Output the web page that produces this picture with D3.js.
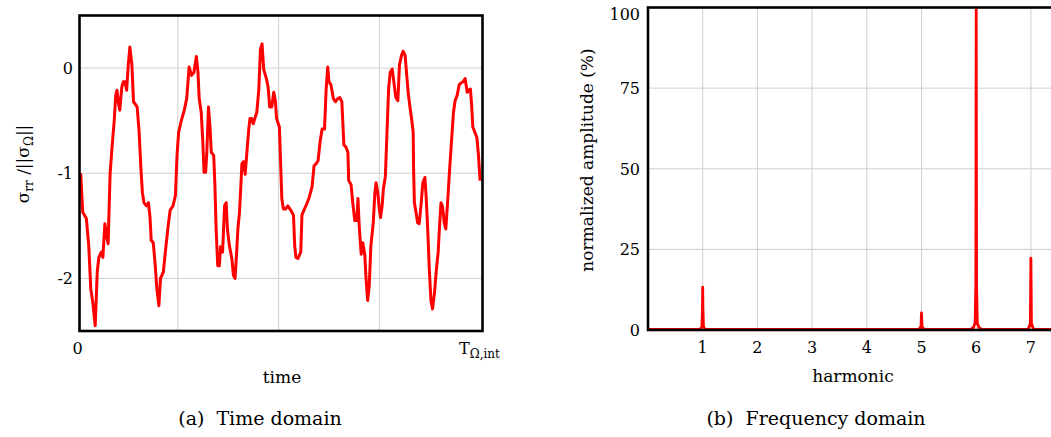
<!DOCTYPE html>
<html>
<head>
<meta charset="utf-8">
<script src="https://cdn.jsdelivr.net/npm/d3@7"></script>
<style>
  body { margin: 0; background: #fff; }
  svg { display: block; font-family: "DejaVu Serif", serif; }
  .grid line { stroke: #cfcfcf; stroke-width: 1; }
</style>
</head>
<body>
<svg id="chart" width="1051" height="437"></svg>
<script>
// time domain signal, t as fraction of T_Ω,int, value = σrr/||σΩ||
var timeT = [0.003, 0.008, 0.017, 0.023, 0.028, 0.033, 0.039, 0.044, 0.048, 0.054, 0.058, 0.063, 0.067, 0.071, 0.076,
  0.081, 0.086, 0.090, 0.093, 0.097, 0.100, 0.105, 0.109, 0.113, 0.117, 0.121, 0.125, 0.130, 0.134, 0.138,
  0.143, 0.148, 0.152, 0.156, 0.160, 0.166, 0.171, 0.175, 0.178, 0.183, 0.188, 0.192, 0.197, 0.201, 0.208,
  0.213, 0.220, 0.225, 0.232, 0.238, 0.242, 0.246, 0.252, 0.260, 0.266, 0.272, 0.278, 0.284, 0.290, 0.294,
  0.297, 0.302, 0.306, 0.309, 0.313, 0.316, 0.320, 0.324, 0.327, 0.333, 0.336, 0.339, 0.343, 0.347, 0.350,
  0.355, 0.360, 0.364, 0.367, 0.372, 0.378, 0.382, 0.386, 0.390, 0.393, 0.397, 0.400, 0.403, 0.407, 0.411,
  0.416, 0.420, 0.423, 0.427, 0.431, 0.435, 0.440, 0.445, 0.449, 0.453, 0.457, 0.463, 0.468, 0.472, 0.477,
  0.482, 0.486, 0.489, 0.496, 0.499, 0.502, 0.506, 0.511, 0.517, 0.524, 0.531, 0.534, 0.537, 0.542, 0.549,
  0.552, 0.557, 0.564, 0.570, 0.577, 0.582, 0.587, 0.592, 0.597, 0.602, 0.608, 0.612, 0.616, 0.619, 0.624,
  0.630, 0.635, 0.641, 0.646, 0.651, 0.656, 0.661, 0.666, 0.668, 0.674, 0.678, 0.683, 0.688, 0.691, 0.694,
  0.699, 0.703, 0.708, 0.711, 0.715, 0.719, 0.723, 0.729, 0.733, 0.736, 0.740, 0.744, 0.747, 0.751, 0.754,
  0.759, 0.763, 0.767, 0.771, 0.776, 0.780, 0.785, 0.790, 0.794, 0.799, 0.803, 0.808, 0.812, 0.816, 0.820,
  0.824, 0.828, 0.829, 0.831, 0.835, 0.839, 0.843, 0.848, 0.852, 0.857, 0.860, 0.864, 0.868, 0.872, 0.876,
  0.881, 0.885, 0.890, 0.893, 0.897, 0.901, 0.905, 0.909, 0.914, 0.918, 0.923, 0.928, 0.932, 0.937, 0.942,
  0.947, 0.952, 0.957, 0.962, 0.966, 0.970, 0.973, 0.976, 0.981, 0.986, 0.990, 0.994];
var stress = [-1.00, -1.37, -1.43, -1.69, -2.10, -2.23, -2.45, -1.94, -1.80, -1.75, -1.80, -1.48, -1.59, -1.67, -1.00,
  -0.74, -0.51, -0.26, -0.21, -0.34, -0.40, -0.18, -0.13, -0.13, -0.21, 0.03, 0.20, 0.03, -0.32, -0.34,
  -0.37, -0.61, -0.93, -1.18, -1.28, -1.31, -1.28, -1.42, -1.64, -1.66, -1.88, -2.10, -2.26, -2.00, -1.94,
  -1.75, -1.50, -1.35, -1.31, -1.21, -0.83, -0.61, -0.51, -0.40, -0.29, 0.01, -0.07, -0.04, 0.11, -0.04,
  -0.29, -0.42, -0.70, -0.99, -0.99, -0.80, -0.37, -0.57, -0.80, -0.83, -1.11, -1.53, -1.88, -1.88, -1.70,
  -1.75, -1.31, -1.28, -1.53, -1.69, -1.81, -1.97, -2.00, -1.75, -1.53, -1.37, -1.15, -0.91, -0.89, -1.01,
  -0.77, -0.58, -0.48, -0.48, -0.53, -0.48, -0.42, -0.20, 0.18, 0.23, -0.01, -0.09, -0.18, -0.37, -0.37,
  -0.23, -0.31, -0.48, -0.56, -0.89, -1.24, -1.34, -1.34, -1.31, -1.35, -1.40, -1.69, -1.80, -1.81, -1.75,
  -1.40, -1.35, -1.29, -1.23, -1.13, -0.93, -0.91, -0.88, -0.70, -0.58, -0.58, -0.20, 0.01, -0.13, -0.16,
  -0.29, -0.32, -0.29, -0.28, -0.32, -0.73, -0.75, -0.80, -1.07, -1.11, -1.28, -1.45, -1.45, -1.24, -1.50,
  -1.77, -1.66, -1.78, -2.00, -2.21, -2.07, -1.69, -1.47, -1.18, -1.09, -1.18, -1.34, -1.42, -1.31, -1.15,
  -1.03, -0.61, -0.20, -0.04, -0.01, -0.13, -0.28, -0.31, 0.03, 0.12, 0.16, 0.12, -0.07, -0.25, -0.37,
  -0.48, -0.61, -0.96, -1.28, -1.37, -1.47, -1.48, -1.28, -1.09, -1.04, -1.21, -1.53, -1.91, -2.21, -2.29,
  -2.13, -1.94, -1.75, -1.53, -1.28, -1.32, -1.47, -1.53, -1.24, -0.99, -0.70, -0.42, -0.31, -0.26, -0.16,
  -0.14, -0.13, -0.10, -0.23, -0.21, -0.20, -0.35, -0.56, -0.61, -0.66, -0.83, -1.07];
var timeGrid = [0.244, 0.494, 0.744];
var stressTicks = [0, -1, -2];

// frequency domain, harmonic order vs normalized amplitude (%)
var harmonic = [0, 0.95, 0.985, 0.995, 1, 1.005, 1.015, 1.05, 4.95, 4.99, 5, 5.01, 5.05, 5.9, 5.95, 5.98, 5.993,
  6, 6.007, 6.02, 6.05, 6.1, 6.95, 6.99, 7, 7.01, 7.05, 8];
var amplitude = [0.2, 0.2, 1.0, 6.0, 13.3, 6.0, 1.0, 0.2, 0.2, 1.0, 5.3, 1.0, 0.2, 0.2, 0.8, 2.2, 14,
  100, 14, 2.2, 0.8, 0.2, 0.2, 2.0, 22.3, 2.0, 0.2, 0.2];
var harmonicTicks = [1, 2, 3, 4, 5, 6, 7];
var ampTicks = [0, 25, 50, 75, 100];

var svg = d3.select("#chart");

// ---------- (a) time domain ----------
var L = { left: 79.5, right: 482.5, top: 15.5, bottom: 331 };
var xT = d3.scaleLinear().domain([0, 1]).range([L.left, L.right]);
var yT = d3.scaleLinear().domain([-2.5, 0.5]).range([L.bottom, L.top]);

var gA = svg.append("g");
gA.append("clipPath").attr("id", "clipA").append("rect")
  .attr("x", L.left).attr("y", L.top).attr("width", L.right - L.left).attr("height", L.bottom - L.top);

gA.append("g").attr("class", "grid")
  .selectAll("line.v").data(timeGrid).enter().append("line")
  .attr("x1", xT).attr("x2", xT).attr("y1", L.top).attr("y2", L.bottom);
gA.append("g").attr("class", "grid")
  .selectAll("line.h").data(stressTicks).enter().append("line")
  .attr("x1", L.left).attr("x2", L.right).attr("y1", yT).attr("y2", yT);

var lineA = d3.line()
  .x(function (d) { return xT(d[0]); })
  .y(function (d) { return yT(d[1]); });

gA.append("path")
  .datum(d3.zip(timeT, stress))
  .attr("clip-path", "url(#clipA)")
  .attr("d", lineA)
  .attr("fill", "none")
  .attr("stroke", "#ff0000")
  .attr("stroke-width", 3)
  .attr("stroke-linejoin", "round");

gA.append("rect")
  .attr("x", L.left).attr("y", L.top).attr("width", L.right - L.left).attr("height", L.bottom - L.top)
  .attr("fill", "none").attr("stroke", "#000").attr("stroke-width", 2.6);

gA.selectAll("text.ytick").data(stressTicks).enter().append("text")
  .attr("x", 73).attr("y", function (d) { return yT(d) + 6; })
  .attr("text-anchor", "end").attr("font-size", 16)
  .text(function (d) { return d; });

gA.append("text").attr("x", xT(0) - 2).attr("y", 354).attr("text-anchor", "middle").attr("font-size", 16).text("0");
var tLab = gA.append("text").attr("x", xT(1) - 3).attr("y", 354).attr("text-anchor", "middle").attr("font-size", 16);
tLab.append("tspan").text("T");
tLab.append("tspan").attr("font-size", 12).attr("dy", 4).text("Ω,int");

gA.append("text").attr("x", 282).attr("y", 383).attr("text-anchor", "middle").attr("font-size", 17).text("time");

var sLab = gA.append("text").attr("transform", "translate(29,164) rotate(-90)")
  .attr("text-anchor", "middle").attr("font-size", 17);
sLab.append("tspan").text("σ");
sLab.append("tspan").attr("font-size", 12).attr("dy", 4).text("rr");
sLab.append("tspan").attr("dy", -4).text(" /||σ");
sLab.append("tspan").attr("font-size", 12).attr("dy", 4).text("Ω");
sLab.append("tspan").attr("dy", -4).text("||");

svg.append("text").attr("x", 260).attr("y", 425).attr("text-anchor", "middle").attr("font-size", 19)
  .attr("xml:space", "preserve").text("(a)  Time domain");

// ---------- (b) frequency domain ----------
var R = { left: 648, right: 1085.6, top: 7.5, bottom: 330 };
var xH = d3.scaleLinear().domain([0, 8]).range([R.left, R.right]);
var yA = d3.scaleLinear().domain([0, 100]).range([R.bottom, R.top]);

var gB = svg.append("g");
gB.append("clipPath").attr("id", "clipB").append("rect")
  .attr("x", R.left).attr("y", R.top).attr("width", R.right - R.left).attr("height", R.bottom - R.top);

gB.append("g").attr("class", "grid")
  .selectAll("line").data(harmonicTicks).enter().append("line")
  .attr("x1", xH).attr("x2", xH).attr("y1", R.top).attr("y2", R.bottom);
gB.append("g").attr("class", "grid")
  .selectAll("line").data(ampTicks).enter().append("line")
  .attr("x1", R.left).attr("x2", R.right).attr("y1", yA).attr("y2", yA);

var lineB = d3.line()
  .x(function (d) { return xH(d[0]); })
  .y(function (d) { return yA(d[1]); });

gB.append("path")
  .datum(d3.zip(harmonic, amplitude))
  .attr("clip-path", "url(#clipB)")
  .attr("d", lineB)
  .attr("fill", "none")
  .attr("stroke", "#ff0000")
  .attr("stroke-width", 2.8)
  .attr("stroke-linejoin", "round");

gB.append("rect")
  .attr("x", R.left).attr("y", R.top).attr("width", R.right - R.left).attr("height", R.bottom - R.top)
  .attr("fill", "none").attr("stroke", "#000").attr("stroke-width", 2.6);

gB.selectAll("text.ytick").data(ampTicks).enter().append("text")
  .attr("x", 640).attr("y", function (d) { return Math.max(yA(d), 14) + 6; })
  .attr("text-anchor", "end").attr("font-size", 16)
  .text(function (d) { return d; });

gB.selectAll("text.xtick").data(harmonicTicks).enter().append("text")
  .attr("x", xH).attr("y", 353)
  .attr("text-anchor", "middle").attr("font-size", 16)
  .text(function (d) { return d; });

gB.append("text").attr("x", 853).attr("y", 382).attr("text-anchor", "middle").attr("font-size", 17).text("harmonic");
gB.append("text").attr("transform", "translate(593,160) rotate(-90)")
  .attr("text-anchor", "middle").attr("font-size", 17).text("normalized amplitude (%)");

svg.append("text").attr("x", 816).attr("y", 425).attr("text-anchor", "middle").attr("font-size", 19)
  .attr("xml:space", "preserve").text("(b)  Frequency domain");
</script>
</body>
</html>
